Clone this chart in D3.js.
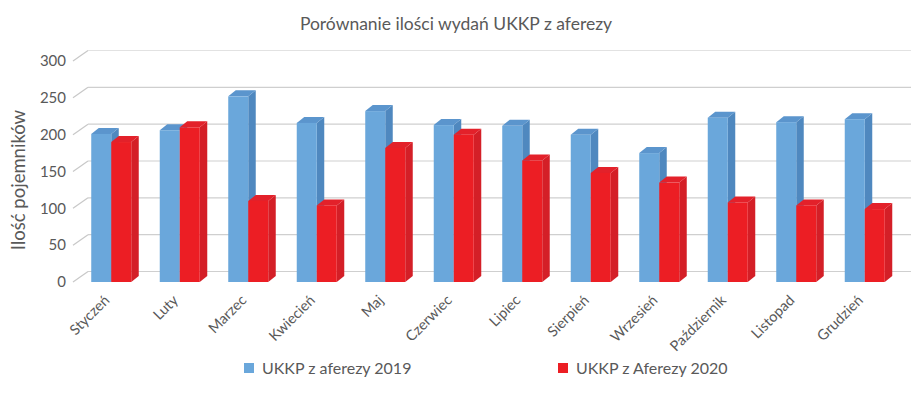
<!DOCTYPE html>
<html>
<head>
<meta charset="utf-8">
<script src="https://cdn.jsdelivr.net/npm/d3@7"></script>
<style>
  body { margin: 0; background: #fff; }
  text { font-family: Lato, "Open Sans", sans-serif; fill: #595959; }
</style>
</head>
<body>
<svg id="chart" width="916" height="395"></svg>
<script>
// data
const months = ['Styczeń', 'Luty', 'Marzec', 'Kwiecień', 'Maj', 'Czerwiec',
                'Lipiec', 'Sierpień', 'Wrzesień', 'Październik', 'Listopad', 'Grudzień'];
const series2019 = [201, 206, 252, 216, 232, 213, 212, 200, 175, 223, 217, 221];
const series2020 = [190, 210, 110, 104, 182, 200, 165, 148, 135, 108, 104, 99];
const seriesNames = ['UKKP z aferezy 2019', 'UKKP z Aferezy 2020'];
const yTicks = [0, 50, 100, 150, 200, 250, 300];

const svg = d3.select('#chart');

// colours for front / side / top of each series
const faces = [
  { front: '#6aa7db', side: '#4f88bf', top: '#5b95cd' },
  { front: '#ec1e24', side: '#d41f27', top: '#e3212a' }
];

// depth of the plot box and of the bars
const wallDx = 15, wallDy = 10.5;
const barDx = 7.5, barDy = 6;

let x = d3.scaleBand()
  .domain(months)
  .range([77, 899])
  .paddingInner(0.416)
  .paddingOuter(0.208);

let xs = d3.scaleBand()
  .domain([0, 1])
  .range([0, x.bandwidth()]);

let y = d3.scaleLinear()
  .domain([0, 300])
  .range([282, 61]);

// back wall gridlines + side diagonals
let grid = svg.append('g');
yTicks.forEach(t => {
  let yf = y(t);
  grid.append('line')
    .attr('x1', 73).attr('y1', yf)
    .attr('x2', 73 + wallDx).attr('y2', yf - wallDy)
    .attr('stroke', '#c8c8c8').attr('stroke-width', 1.2);
  grid.append('line')
    .attr('x1', 73 + wallDx).attr('y1', yf - wallDy)
    .attr('x2', 911).attr('y2', yf - wallDy)
    .attr('stroke', t === 300 ? '#e2e2e2' : '#cfcfcf').attr('stroke-width', 1.2);
});

// y tick labels
svg.append('g').selectAll('text')
  .data(yTicks)
  .enter()
  .append('text')
  .attr('x', 66)
  .attr('y', d => y(d))
  .attr('dy', '0.35em')
  .attr('text-anchor', 'end')
  .style('font-size', '15px')
  .text(d => d);

// bars
let rows = months.map((m, i) => [series2019[i], series2020[i]]);
let bars = svg.append('g');
months.forEach((m, i) => {
  rows[i].forEach((v, s) => {
    let x0 = x(m) + xs(s);
    let x1 = x0 + xs.bandwidth();
    let yb = y(0), yt = y(v);
    let c = faces[s];
    bars.append('polygon')
      .attr('points', [[x1, yb], [x1 + barDx, yb - barDy], [x1 + barDx, yt - barDy], [x1, yt]].join(' '))
      .attr('fill', c.side);
    bars.append('polygon')
      .attr('points', [[x0, yt], [x0 + barDx, yt - barDy], [x1 + barDx, yt - barDy], [x1, yt]].join(' '))
      .attr('fill', c.top);
    bars.append('rect')
      .attr('x', x0).attr('y', yt)
      .attr('width', x1 - x0).attr('height', yb - yt)
      .attr('fill', c.front);
  });
});

// month labels, rotated
svg.append('g').selectAll('text')
  .data(months)
  .enter()
  .append('text')
  .attr('transform', d => `translate(${x(d) + x.bandwidth() / 2 - 8},${294}) rotate(-45)`)
  .attr('text-anchor', 'end')
  .attr('dy', '0.7em')
  .style('font-size', '14.5px')
  .text(d => d);

// title
svg.append('text')
  .attr('x', 456).attr('y', 30)
  .attr('text-anchor', 'middle')
  .style('font-size', '17.5px')
  .text('Porównanie ilości wydań UKKP z aferezy');

// y axis title
svg.append('text')
  .attr('transform', 'translate(25,180) rotate(-90)')
  .attr('text-anchor', 'middle')
  .style('font-size', '18.5px')
  .text('Ilość pojemników');

// legend
let legendX = [244, 558];
seriesNames.forEach((name, s) => {
  svg.append('rect')
    .attr('x', legendX[s]).attr('y', 363)
    .attr('width', 10).attr('height', 10)
    .attr('fill', faces[s].front);
  svg.append('text')
    .attr('x', legendX[s] + 18).attr('y', 368)
    .attr('dy', '0.35em')
    .style('font-size', '16px')
    .text(name);
});
</script>
</body>
</html>
